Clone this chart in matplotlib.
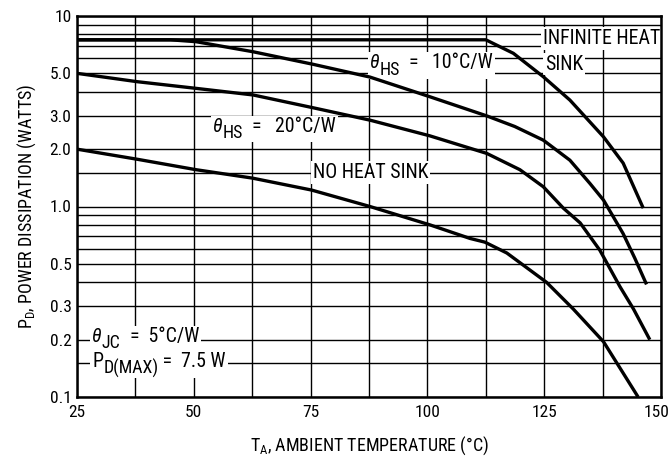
import matplotlib
matplotlib.use('Agg')
import matplotlib.pyplot as plt
import matplotlib.transforms as mtransforms
from matplotlib.patches import Rectangle
from matplotlib import font_manager as fm
from matplotlib.ticker import FixedLocator, FixedFormatter, NullFormatter

# ---------------- data ----------------
inf_T = [25, 112.5, 118.4, 124.8, 130.5, 137.7, 141.9, 146.2]
inf_P = [7.5, 7.5, 6.37, 4.80, 3.62, 2.32, 1.69, 0.98]

hs10_T = [25, 45, 50.5, 62.7, 75.5, 87.7, 100.5, 112.7, 118.7, 124.8, 130.5, 134.8, 137.7, 141.9, 144.4, 146.9]
hs10_P = [7.5, 7.5, 7.33, 6.49, 5.58, 4.78, 3.77, 2.99, 2.63, 2.23, 1.75, 1.32, 1.08, 0.72, 0.535, 0.39]

hs20_T = [25, 37.9, 50.5, 62.7, 75.5, 87.7, 100.5, 112.7, 119.8, 124.8, 129.1, 132.7, 136.9, 141.2, 144.1, 147.6]
hs20_P = [5.0, 4.52, 4.17, 3.85, 3.30, 2.84, 2.35, 1.90, 1.56, 1.27, 0.98, 0.82, 0.59, 0.38, 0.29, 0.20]

nhs_T = [25, 37.9, 50.5, 62.5, 75.2, 87.7, 100.6, 109.1, 112.3, 117.0, 125.5, 131.2, 137.7, 145.1]
nhs_P = [2.0, 1.77, 1.56, 1.41, 1.22, 1.00, 0.80, 0.68, 0.65, 0.57, 0.40, 0.29, 0.195, 0.10]

x_major = [25, 50, 75, 100, 125, 150]
x_minor = [37.5, 62.5, 87.5, 112.5, 137.5]
y_major = [0.1, 0.2, 0.3, 0.5, 1.0, 2.0, 3.0, 5.0, 10]
y_major_labels = ['0.1', '0.2', '0.3', '0.5', '1.0', '2.0', '3.0', '5.0', '10']
y_minor = [0.15, 0.4, 0.6, 0.7, 0.8, 0.9, 1.5, 4, 6, 7, 8, 9]

# ---------------- font choice: a narrow sans ----------------
names = {f.name for f in fm.fontManager.ttflist}
chosen = 'DejaVu Sans'
for p in ['Roboto Condensed', 'Archivo Narrow', 'PT Sans Narrow', 'IBM Plex Sans Condensed']:
    if p in names:
        chosen = p
        break

plt.rcParams['font.family'] = [chosen, 'DejaVu Sans']
plt.rcParams['mathtext.fontset'] = 'custom'
plt.rcParams['mathtext.rm'] = chosen
plt.rcParams['mathtext.it'] = chosen + ':italic'
plt.rcParams['mathtext.default'] = 'regular'

fig = plt.figure(figsize=(6.72, 4.58), dpi=100)
ax = fig.add_axes([77/672, 1-397/458, 584/672, 381/458])
ax.set_yscale('log')
ax.set_xlim(25, 150)
ax.set_ylim(0.1, 10)

ax.xaxis.set_major_locator(FixedLocator(x_major))
ax.xaxis.set_minor_locator(FixedLocator(x_minor))
ax.yaxis.set_major_locator(FixedLocator(y_major))
ax.yaxis.set_major_formatter(FixedFormatter(y_major_labels))
ax.yaxis.set_minor_locator(FixedLocator(y_minor))
ax.yaxis.set_minor_formatter(NullFormatter())
ax.tick_params(which='both', length=0, labelsize=12.5, colors='black')
ax.tick_params(axis='x', pad=6)
ax.tick_params(axis='y', pad=4)
ax.grid(which='both', color='black', linewidth=1.0)
ax.set_axisbelow(True)
for s in ax.spines.values():
    s.set_linewidth(1.8)
    s.set_zorder(5)

lw = 2.4
for T, P in [(inf_T, inf_P), (hs10_T, hs10_P), (hs20_T, hs20_P), (nhs_T, nhs_P)]:
    ax.plot(T, P, color='black', linewidth=lw, solid_capstyle='butt', zorder=3)

box = dict(facecolor='white', edgecolor='none', pad=1.5)
fs = 14.3
ax.text(0.798, 0.942, 'INFINITE HEAT', transform=ax.transAxes, fontsize=fs,
        ha='left', va='center', bbox=box, zorder=2.5)
ax.text(0.801, 0.874, 'SINK', transform=ax.transAxes, fontsize=fs,
        ha='left', va='center', bbox=box, zorder=2.5)
ax.text(0.404, 0.588, 'NO HEAT SINK', transform=ax.transAxes, fontsize=fs,
        ha='left', va='center', bbox=box, zorder=2.5)

renderer = fig.canvas.get_renderer()


def chain(x, y, parts):
    """Write text pieces one after another on a common baseline (axes coords),
    with one white background behind the whole group."""
    xoff = 0.0
    boxes = []
    for s, dy, size, style in parts:
        tr = ax.transAxes + mtransforms.ScaledTranslation(xoff / 72, dy / 72, fig.dpi_scale_trans)
        t = ax.text(x, y, s, transform=tr, fontsize=size, fontstyle=style,
                    ha='left', va='baseline', zorder=2.6)
        bb = t.get_window_extent(renderer)
        boxes.append(bb)
        xoff += bb.width * 72 / fig.dpi
    u = mtransforms.Bbox.union(boxes)
    p = 2
    ax.add_artist(Rectangle((u.x0 - p, u.y0 - p + 2), u.width + 2 * p, u.height + 2 * p - 3,
                            transform=mtransforms.IdentityTransform(),
                            facecolor='white', edgecolor='none', zorder=2.5))


sub = fs * 0.9
chain(0.502, 0.863, [('θ', 0, fs, 'italic'), ('HS', -4.8, sub, 'normal'),
                     ('  =   10°C/W', 0, fs, 'normal')])
chain(0.233, 0.696, [('θ', 0, fs, 'italic'), ('HS', -4.8, sub, 'normal'),
                     ('  =   20°C/W', 0, fs, 'normal')])
chain(0.026, 0.145, [('θ', 0, fs, 'italic'), ('JC', -4.8, sub, 'normal'),
                     ('  =  5°C/W', 0, fs, 'normal')])
chain(0.026, 0.079, [('P', 0, fs, 'normal'), ('D(MAX)', -4.8, sub, 'normal'),
                     (' =  7.5 W', 0, fs, 'normal')])

ax.set_xlabel(r'T$_{\mathrm{A}}$, AMBIENT TEMPERATURE (°C)', fontsize=13, labelpad=10)
ax.set_ylabel(r'P$_{\mathrm{D}}$, POWER DISSIPATION (WATTS)', fontsize=13, labelpad=8)

# keep the last x tick label inside the canvas (reference shows it flush at the edge)
fig.canvas.draw()
last = ax.get_xticklabels()[-1]
last.set_transform(last.get_transform() + mtransforms.ScaledTranslation(-4/100, 0, fig.dpi_scale_trans))

fig.savefig('out.png', dpi=100)
